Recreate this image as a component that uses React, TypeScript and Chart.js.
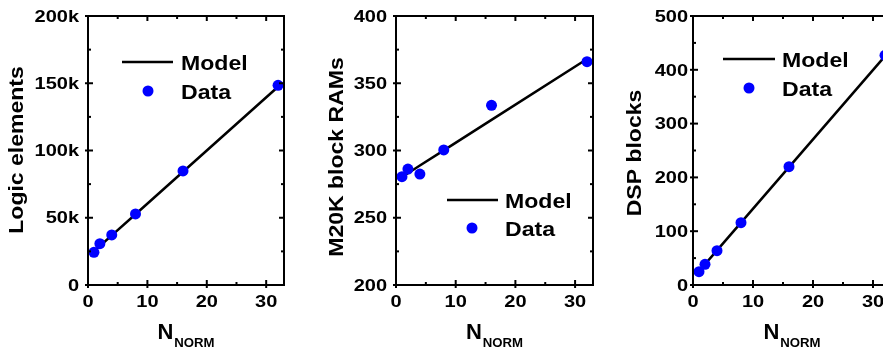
import { useEffect, useRef } from "react";
import { Chart, registerables } from "chart.js";

Chart.register(...registerables);

// ---------------- data ----------------
const nNorm = [1, 2, 4, 8, 16, 32];

const logicData = [24300, 30700, 37200, 52800, 84800, 148500];
const logicModel = [25000, 29000, 36900, 52600, 84200, 147400];

const ramData = [280.5, 286.2, 282.5, 300.4, 333.6, 366];
const ramModel = [280.3, 283.1, 288.8, 300.1, 322.8, 368.0];

const dspData = [24.7, 38.5, 63.8, 115.8, 219.9, 427];
const dspModel = [25.6, 38.5, 64.3, 115.9, 219.1, 425.5];

const xMin = 0;
const xMax = 33;
const xStep = 10;

const yTitles = ["Logic elements", "M20K block RAMs", "DSP blocks"];
const legendLabels = ["Model", "Data"];
const xTitleMain = "N";
const xTitleSub = "NORM";

// ---------------- layout ----------------
const H = 355;
const AREA_TOP = 16;
const AREA_BOTTOM = 285;
const FONT = "Arial, 'Liberation Sans', sans-serif";
const BLUE = "#0000ff";

type Panel = {
  left: number;
  width: number;
  areaLeft: number;
  areaRight: number;
  yMin: number;
  yMax: number;
  yStep: number;
  fmt: (v: number) => string;
  labelPad: number;
  titleX: number;
  titleY: number;
  lg: { lx0: number; lx1: number; tx: number; r1: number; r2: number; dx: number };
  data: number[];
  model: number[];
  title: string;
};

const panels: Panel[] = [
  {
    left: 0, width: 290, areaLeft: 88, areaRight: 284,
    yMin: 0, yMax: 200000, yStep: 50000,
    fmt: (v) => (v === 0 ? "0" : v / 1000 + "k"),
    labelPad: 9, titleX: 23, titleY: 150,
    lg: { lx0: 34, lx1: 85, tx: 93, r1: 46, r2: 75, dx: 60 },
    data: logicData, model: logicModel, title: yTitles[0],
  },
  {
    left: 290, width: 310, areaLeft: 106, areaRight: 303,
    yMin: 200, yMax: 400, yStep: 50,
    fmt: (v) => String(v),
    labelPad: 9, titleX: 53, titleY: 157,
    lg: { lx0: 51, lx1: 102, tx: 109, r1: 184, r2: 212, dx: 76 },
    data: ramData, model: ramModel, title: yTitles[1],
  },
  {
    left: 600, width: 310, areaLeft: 93, areaRight: 291,
    yMin: 0, yMax: 500, yStep: 100,
    fmt: (v) => String(v),
    labelPad: 5, titleX: 41, titleY: 153,
    lg: { lx0: 30, lx1: 82, tx: 89, r1: 43, r2: 72, dx: 56 },
    data: dspData, model: dspModel, title: yTitles[2],
  },
];

function stretchedText(
  ctx: CanvasRenderingContext2D,
  text: string,
  x: number,
  y: number,
  sx: number,
  align: CanvasTextAlign
) {
  ctx.save();
  ctx.translate(x, y);
  ctx.scale(sx, 1);
  ctx.textAlign = align;
  ctx.textBaseline = "alphabetic";
  ctx.fillText(text, 0, 0);
  ctx.restore();
}

function makeDecor(p: Panel) {
  return {
    id: "decor",
    afterDraw(chart: any) {
      const ctx: CanvasRenderingContext2D = chart.ctx;
      const { left, right, top, bottom } = chart.chartArea;
      const xs = chart.scales.x;
      const ys = chart.scales.y;
      ctx.save();
      ctx.fillStyle = "#000";
      ctx.strokeStyle = "#000";
      ctx.lineWidth = 2;
      ctx.lineCap = "butt";

      // frame
      ctx.strokeRect(left, top, right - left, bottom - top);

      const xt: number[] = xs.ticks.map((t: any) => t.value);
      const yt: number[] = ys.ticks.map((t: any) => t.value);
      const minors = (vals: number[], max: number) => {
        const out: number[] = [];
        for (let i = 0; i < vals.length - 1; i++) out.push((vals[i] + vals[i + 1]) / 2);
        if (vals.length > 1) {
          const st = vals[1] - vals[0];
          const nx = vals[vals.length - 1] + st / 2;
          if (nx < max) out.push(nx);
        }
        return out;
      };
      const line = (x0: number, y0: number, x1: number, y1: number) => {
        ctx.beginPath();
        ctx.moveTo(x0, y0);
        ctx.lineTo(x1, y1);
        ctx.stroke();
      };

      xt.forEach((v) => {
        const px = xs.getPixelForValue(v);
        line(px, bottom + 3, px, bottom - 5);
        line(px, top, px, top + 5);
      });
      minors(xt, xMax).forEach((v) => {
        const px = xs.getPixelForValue(v);
        line(px, bottom, px, bottom - 3);
        line(px, top, px, top + 3);
      });
      yt.forEach((v) => {
        const py = ys.getPixelForValue(v);
        line(left - 3, py, left + 5, py);
        line(right, py, right - 5, py);
      });
      minors(yt, p.yMax).forEach((v) => {
        const py = ys.getPixelForValue(v);
        line(left, py, left + 3, py);
        line(right, py, right - 3, py);
      });

      // tick labels
      ctx.font = `bold 16px ${FONT}`;
      xt.forEach((v) => {
        const px = xs.getPixelForValue(v);
        stretchedText(ctx, String(v), px, 307, 1.25, "center");
      });
      yt.forEach((v) => {
        const py = ys.getPixelForValue(v);
        stretchedText(ctx, p.fmt(v), left - p.labelPad, py + 5.7, 1.25, "right");
      });

      // y title
      ctx.font = `bold 20px ${FONT}`;
      ctx.save();
      ctx.translate(p.titleX, p.titleY);
      ctx.rotate(-Math.PI / 2);
      ctx.scale(1.15, 1);
      ctx.textAlign = "center";
      ctx.textBaseline = "alphabetic";
      ctx.fillText(p.title, 0, 0);
      ctx.restore();

      // x title N_NORM
      const cx = (left + right) / 2;
      ctx.font = `bold 22px ${FONT}`;
      const wN = ctx.measureText(xTitleMain).width;
      ctx.font = `bold 12px ${FONT}`;
      const wS = ctx.measureText(xTitleSub).width * 1.1;
      const total = wN + 1 + wS;
      const x0 = cx - total / 2;
      ctx.font = `bold 22px ${FONT}`;
      stretchedText(ctx, xTitleMain, x0, 339, 1, "left");
      ctx.font = `bold 12px ${FONT}`;
      stretchedText(ctx, xTitleSub, x0 + wN + 1, 347, 1.1, "left");

      // legend
      const lg = p.lg;
      ctx.lineWidth = 2.5;
      line(left + lg.lx0, top + lg.r1, left + lg.lx1, top + lg.r1);
      ctx.fillStyle = BLUE;
      ctx.beginPath();
      ctx.arc(left + lg.dx, top + lg.r2, 5.5, 0, Math.PI * 2);
      ctx.fill();
      ctx.fillStyle = "#000";
      ctx.font = `bold 21px ${FONT}`;
      stretchedText(ctx, legendLabels[0], left + lg.tx, top + lg.r1 + 7.5, 1.1, "left");
      stretchedText(ctx, legendLabels[1], left + lg.tx, top + lg.r2 + 7.5, 1.1, "left");

      ctx.restore();
    },
  };
}

function PanelChart({ p }: { p: Panel }) {
  const ref = useRef<HTMLCanvasElement | null>(null);
  useEffect(() => {
    if (!ref.current) return;
    const chart = new Chart(ref.current, {
      type: "scatter",
      data: {
        datasets: [
          {
            label: legendLabels[1],
            data: nNorm.map((x, i) => ({ x, y: p.data[i] })),
            pointRadius: 5.5,
            pointHoverRadius: 5.5,
            pointBackgroundColor: BLUE,
            pointBorderWidth: 0,
            borderColor: BLUE,
            showLine: false,
          },
          {
            label: legendLabels[0],
            data: nNorm.map((x, i) => ({ x, y: p.model[i] })),
            showLine: true,
            pointRadius: 0,
            borderColor: "#000",
            borderWidth: 2.5,
            tension: 0,
          },
        ],
      },
      options: {
        animation: false,
        responsive: false,
        devicePixelRatio: 1,
        events: [],
        layout: { padding: { left: 0, right: p.width - p.areaRight, top: AREA_TOP, bottom: 0 } },
        plugins: { legend: { display: false }, tooltip: { enabled: false }, title: { display: false } },
        scales: {
          x: {
            type: "linear",
            min: xMin,
            max: xMax,
            ticks: { stepSize: xStep, includeBounds: false, display: false },
            grid: { display: false, drawTicks: false },
            border: { display: false },
            afterFit: (s: any) => {
              s.height = H - AREA_BOTTOM;
            },
          },
          y: {
            type: "linear",
            min: p.yMin,
            max: p.yMax,
            ticks: { stepSize: p.yStep, includeBounds: false, display: false },
            grid: { display: false, drawTicks: false },
            border: { display: false },
            afterFit: (s: any) => {
              s.width = p.areaLeft;
            },
          },
        },
      } as any,
      plugins: [makeDecor(p)],
    });
    return () => chart.destroy();
  }, [p]);
  return (
    <canvas
      ref={ref}
      width={p.width}
      height={H}
      style={{ position: "absolute", left: p.left, top: 0, width: p.width, height: H }}
    />
  );
}

export default function App() {
  return (
    <div
      style={{
        position: "absolute",
        left: 0,
        top: 0,
        width: 883,
        height: H,
        overflow: "hidden",
        background: "#fff",
      }}
    >
      {panels.map((p, i) => (
        <PanelChart key={i} p={p} />
      ))}
    </div>
  );
}
